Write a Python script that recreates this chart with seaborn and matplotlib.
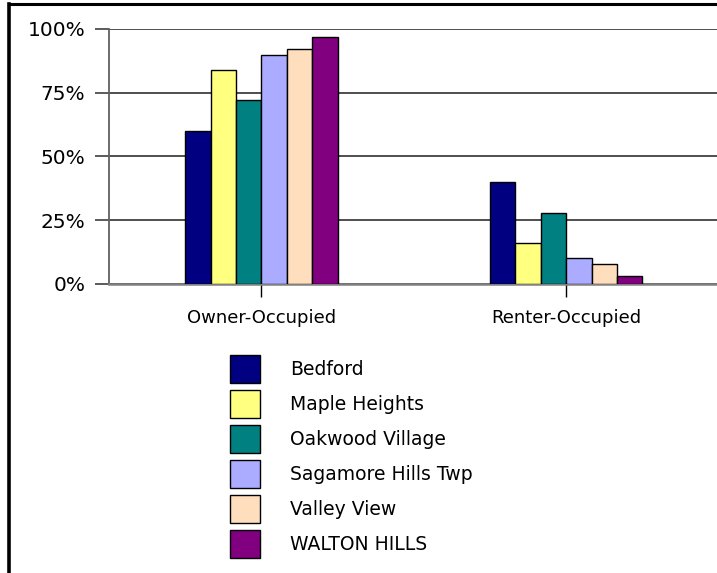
import matplotlib
matplotlib.use("Agg")
import matplotlib.pyplot as plt
import seaborn as sns
import pandas as pd
from matplotlib.lines import Line2D
from matplotlib.ticker import FuncFormatter

categories = ["Owner-Occupied", "Renter-Occupied"]
places = ["Bedford", "Maple Heights", "Oakwood Village", "Sagamore Hills Twp",
          "Valley View", "WALTON HILLS"]
owner = [60, 84, 72, 90, 92, 97]
renter = [40, 16, 28, 10, 8, 3]
colors = ["#000080", "#FFFF80", "#008080", "#ABABFF", "#FFDEBD", "#800080"]
yticks = [0, 25, 50, 75, 100]

rows = []
for p, o, r in zip(places, owner, renter):
    rows.append({"tenure": categories[0], "place": p, "pct": o})
    rows.append({"tenure": categories[1], "place": p, "pct": r})
df = pd.DataFrame(rows)

sns.set_theme(style="white")
plt.rcParams["font.family"] = ["DejaVu Sans"]
plt.rcParams["text.color"] = "black"

W, H = 717, 573
fig = plt.figure(figsize=(W / 100, H / 100), dpi=100)
ax = fig.add_axes([109 / W, 1 - 284 / H, 609.7 / W, 255 / H])

sns.barplot(data=df, x="tenure", y="pct", hue="place", hue_order=places,
            order=categories, palette=colors, width=0.5, gap=0,
            edgecolor="black", linewidth=1.0, saturation=1, ax=ax, zorder=3)

ax.set_xlim(-0.5, 1.5)
ax.set_ylim(0, 100)
ax.set_yticks(yticks)
ax.yaxis.set_major_formatter(FuncFormatter(lambda v, _: f"{int(v)}%"))
ax.set_xlabel("")
ax.set_ylabel("")
ax.grid(axis="y", color="#404040", linewidth=1.3, zorder=0)
ax.grid(axis="x", visible=False)
ax.set_axisbelow(True)

for s in ["top", "right"]:
    ax.spines[s].set_visible(False)
ax.spines["left"].set_color("#606060")
ax.spines["left"].set_linewidth(1.3)
ax.spines["bottom"].set_color("#808080")
ax.spines["bottom"].set_linewidth(1.8)

ax.tick_params(axis="y", direction="out", length=10, width=1.2, color="#404040",
               labelsize=14.5, pad=7, labelcolor="black", left=True)
ax.tick_params(axis="x", direction="out", length=9, width=1.0, color="black",
               labelsize=13, pad=9, labelcolor="black", bottom=True)

handles, labels = ax.get_legend_handles_labels()
ax.get_legend().remove()
leg = fig.legend(handles, labels, loc="upper left",
                 bbox_to_anchor=(230 / W, 1 - 355 / H),
                 frameon=False, fontsize=13.5, handlelength=1.6,
                 handleheight=1.92, labelspacing=0.37, handletextpad=1.58,
                 borderpad=0, borderaxespad=0, labelcolor="black")
for h in leg.legend_handles:
    h.set_edgecolor("black")
    h.set_linewidth(1.0)

fig.add_artist(Line2D([8.5 / W, 8.5 / W], [-0.1, 1 - 3.7 / H], color="black",
                      linewidth=2.6, transform=fig.transFigure,
                      solid_capstyle="projecting"))
fig.add_artist(Line2D([8.5 / W, 1.1], [1 - 3.7 / H, 1 - 3.7 / H], color="black",
                      linewidth=2.2, transform=fig.transFigure,
                      solid_capstyle="projecting"))

fig.savefig("out.png", dpi=100)
